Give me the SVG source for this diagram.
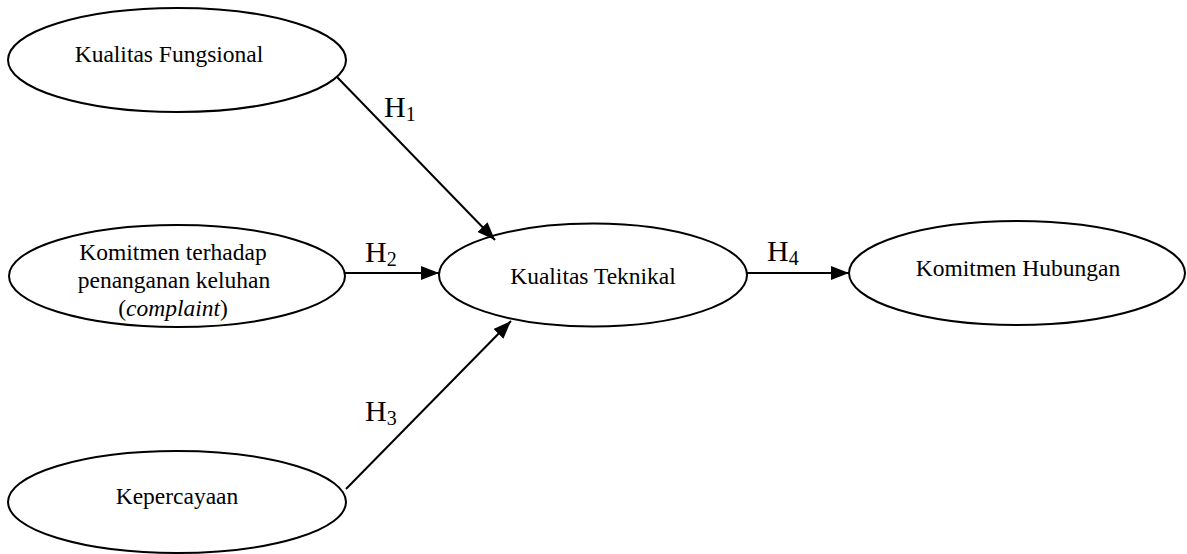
<svg xmlns="http://www.w3.org/2000/svg" width="1187" height="554" viewBox="0 0 1187 554">
<style>
.n{fill:#fff;stroke:#000;stroke-width:2}
.t{font-family:"Liberation Serif","Times New Roman",serif;font-size:23.5px;fill:#000;text-anchor:middle}
.h{font-family:"Liberation Serif","Times New Roman",serif;font-size:30px;fill:#000}
.c{stroke:#000;stroke-width:2;fill:none;marker-end:url(#a)}
</style>
<defs>
<marker id="a" viewBox="0 0 18 14" refX="18" refY="7" markerWidth="18" markerHeight="14" markerUnits="userSpaceOnUse" orient="auto">
<path d="M0,0 L18,7 L0,14 z" fill="#000"/>
</marker>
</defs>
<rect width="1187" height="554" fill="#fff"/>
<g id="n1"><ellipse class="n" cx="177" cy="60" rx="169" ry="52"/><text class="t" x="169" y="62">Kualitas Fungsional</text></g>
<g id="n2"><ellipse class="n" cx="177" cy="276" rx="168" ry="51"/><text class="t" x="173" y="260">Komitmen terhadap</text><text class="t" x="174" y="288">penanganan keluhan</text><text class="t" x="173" y="316">(<tspan font-style="italic">complaint</tspan>)</text></g>
<g id="n3"><ellipse class="n" cx="593" cy="275" rx="154" ry="51.5"/><text class="t" x="593" y="284">Kualitas Teknikal</text></g>
<g id="n4"><ellipse class="n" cx="177" cy="502" rx="169" ry="51"/><text class="t" x="177" y="504">Kepercayaan</text></g>
<g id="n5"><ellipse class="n" cx="1017" cy="273" rx="168" ry="52"/><text class="t" x="1018" y="276">Komitmen Hubungan</text></g>
<g id="connectors">
<line class="c" x1="337" y1="77" x2="495" y2="240"/>
<line class="c" x1="345" y1="273" x2="439" y2="273"/>
<line class="c" x1="346" y1="489" x2="511" y2="321"/>
<line class="c" x1="747" y1="273" x2="849" y2="273"/>
</g>
<g id="labels">
<text class="h" x="384" y="117">H<tspan font-size="20" dy="4">1</tspan></text>
<text class="h" x="365" y="262">H<tspan font-size="20" dy="4">2</tspan></text>
<text class="h" x="365" y="421">H<tspan font-size="20" dy="4">3</tspan></text>
<text class="h" x="767" y="261">H<tspan font-size="20" dy="4">4</tspan></text>
</g>
</svg>
